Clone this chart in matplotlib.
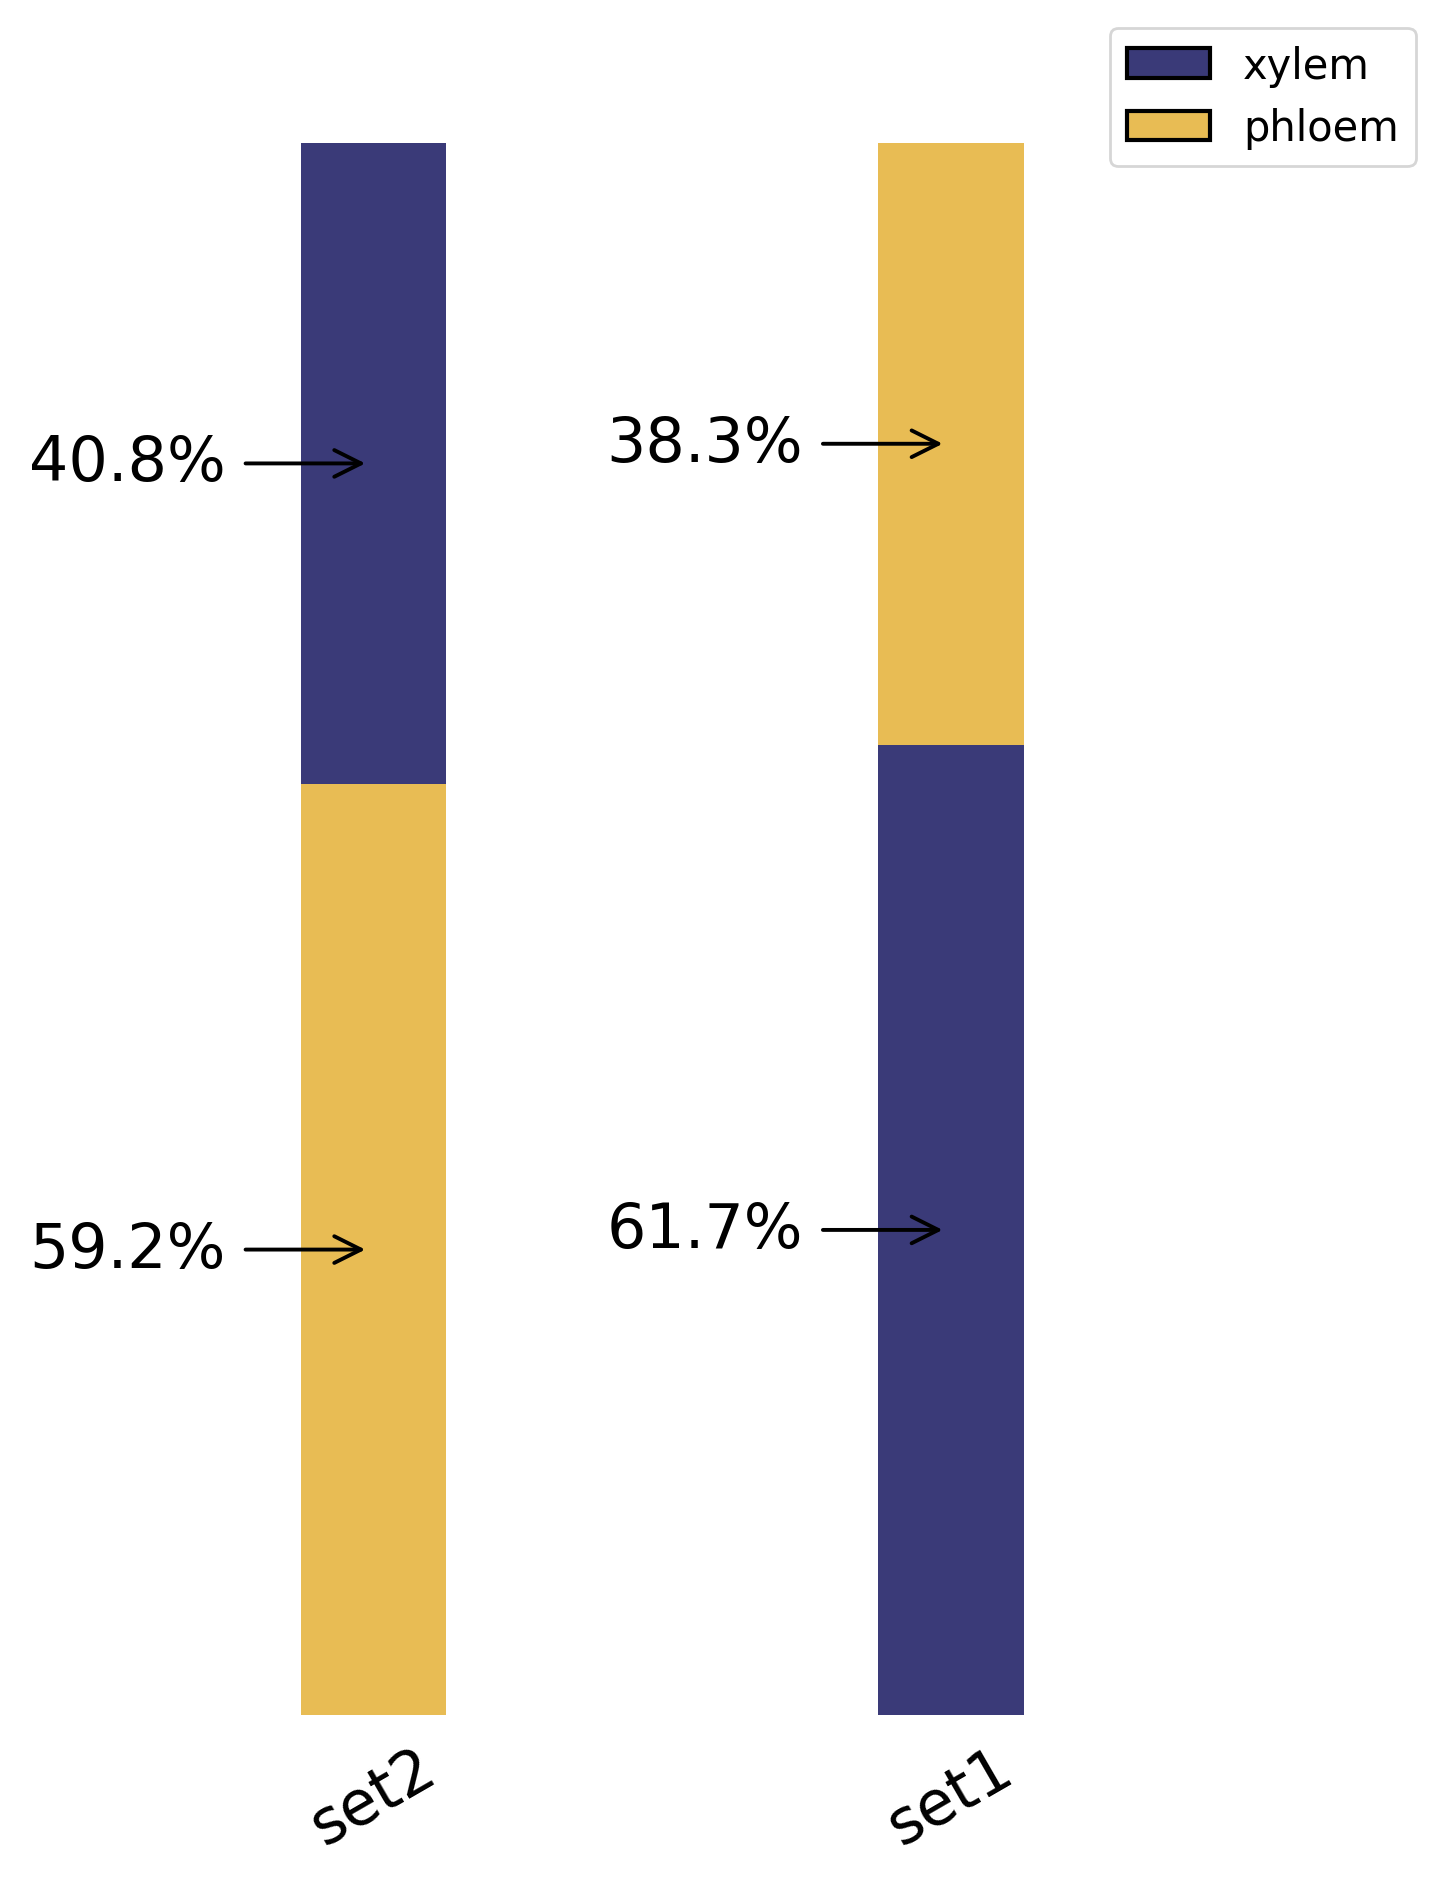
import matplotlib
matplotlib.use("Agg")
import matplotlib.pyplot as plt
import matplotlib.patches as mpatches

# data: each set stacked bottom -> top
sets = ['set2', 'set1']
bottom_parts = ['phloem', 'xylem']
bottom_vals = [59.2, 61.7]
top_parts = ['xylem', 'phloem']
top_vals = [40.8, 38.3]

colors = {'xylem': '#3a3a78', 'phloem': '#e8bc54'}

fig = plt.figure(figsize=(7.23, 9.415), dpi=200)
ax = fig.add_axes([0.1836, 0.0887, 0.549, 0.835])

x = range(len(sets))
width = 0.252
ax.bar(x, bottom_vals, width=width, color=[colors[p] for p in bottom_parts])
ax.bar(x, top_vals, width=width, bottom=bottom_vals, color=[colors[p] for p in top_parts])

# percentage labels with arrows pointing at the middle of each segment
for i in x:
    mids = [bottom_vals[i] / 2, bottom_vals[i] + top_vals[i] / 2]
    vals = [bottom_vals[i], top_vals[i]]
    for mid, v in zip(mids, vals):
        ax.annotate('', xy=(i - 0.005, mid), xytext=(i - 0.222, mid),
                    arrowprops=dict(arrowstyle='->', lw=1.4, color='black',
                                    shrinkA=0, mutation_scale=24))
        ax.text(i - 0.257, mid, f'{v}%', ha='right', va='center', fontsize=22.3)

ax.set_xlim(-0.1875, 1.1875)
ax.set_ylim(0, 100)
ax.set_xticks(list(x))
ax.set_xticklabels(sets, rotation=30, fontsize=22.3)
ax.tick_params(axis='x', length=0, pad=8)
ax.set_yticks([])
for s in ax.spines.values():
    s.set_visible(False)

handles = [mpatches.Patch(facecolor=colors['xylem'], edgecolor='black', linewidth=1.5, label='xylem'),
           mpatches.Patch(facecolor=colors['phloem'], edgecolor='black', linewidth=1.5, label='phloem')]
fig.legend(handles=handles, loc='upper right', bbox_to_anchor=(0.979, 0.9846),
           borderaxespad=0, fontsize=15)

fig.savefig('out.png', dpi=200)
